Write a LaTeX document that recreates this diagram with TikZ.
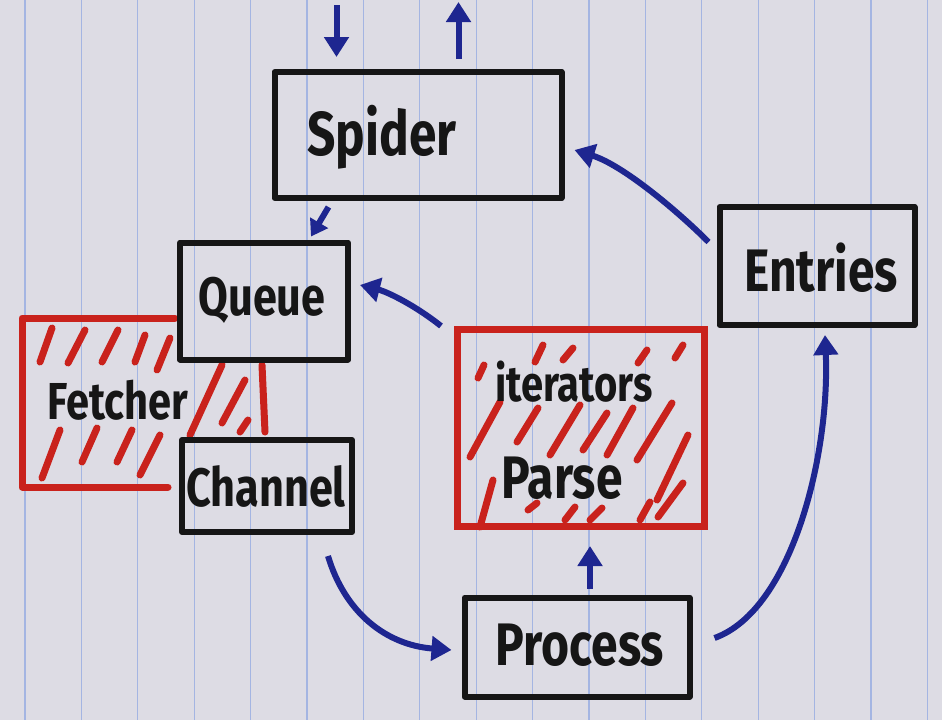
\documentclass[tikz,border=0pt]{standalone}
\usepackage{fontspec}
\setmainfont{Fira Sans}
\usetikzlibrary{arrows.meta,calc}
\definecolor{paper}{HTML}{DDDCE4}
\definecolor{rulecol}{HTML}{A4B5E2}
\definecolor{ink}{HTML}{161616}
\definecolor{redink}{HTML}{C9221C}
\definecolor{blueink}{HTML}{1E2690}
\newcommand\hw[1]{\scalebox{0.8}[1]{#1}}
\begin{document}
\begin{tikzpicture}[x=1pt,y=-1pt,
  blackbox/.style={draw=ink, line width=6pt, line join=round, inner sep=0pt},
  redline/.style={draw=redink, line width=7pt, line join=round, line cap=round},
  hatch/.style={draw=redink, line width=7pt, line cap=round},
  lbl/.style={text=ink, inner sep=0pt, font=\fontsize{#1}{#1}\selectfont\bfseries},
  arr/.style={draw=blueink, line width=6pt, -{Triangle[length=20pt,width=24pt]}},
  paperline/.style={draw=rulecol, line width=1.2pt}]
\useasboundingbox (0,0) rectangle (942,720);
\fill[paper] (0,0) rectangle (942,720);
\foreach \k in {0,...,16} {\draw[paperline] ({25+56.4*\k},0) -- ({25+56.4*\k},720);}

% red hatched areas
\node[inner sep=0pt, minimum width=155pt, minimum height=169pt] (fetcherbox) at (98,402) {};
\draw[redline] (175,318) -- (22,318) -- (22,487) -- (168,487);
\draw[hatch] (40,362) -- (52,328) (68,363) -- (85,330) (102,362) -- (118,330)
  (135,362) -- (145,335) (157,370) -- (170,338)
  (42,478) -- (60,430) (82,462) -- (97,428) (117,462) -- (132,430) (140,475) -- (160,435);
\draw[hatch] (190,435) -- (222,365) (222,423) -- (245,380) (240,432) -- (248,420) (262,365) -- (265,432);

\node[draw=redink, line width=7pt, inner sep=0pt, minimum width=247pt, minimum height=197pt] (pbox) at (581,428) {};
\draw[hatch] (478,378) -- (484,365) (535,362) -- (543,345) (563,360) -- (573,348)
  (638,363) -- (647,350) (675,358) -- (683,345)
  (470,457) -- (500,402) (517,442) -- (538,408) (550,455) -- (580,405) (583,450) -- (607,413)
  (607,455) -- (633,408) (637,460) -- (672,403) (657,500) -- (688,435)
  (480,527) -- (493,480) (528,510) -- (537,503) (565,520) -- (575,507) (590,520) -- (602,508)
  (640,520) -- (650,502) (658,517) -- (683,483);

% black boxes
\node[blackbox, minimum width=287pt, minimum height=126pt] (spider) at (418,135) {};
\node[blackbox, minimum width=195pt, minimum height=118pt] (entries) at (817,266) {};
\node[blackbox, minimum width=168pt, minimum height=117pt] (queue) at (264,301) {};
\node[blackbox, minimum width=170pt, minimum height=92pt] (channel) at (267,486) {};
\node[blackbox, minimum width=225pt, minimum height=99pt] (process) at (577,647) {};

% labels
\node[lbl=62] (spiderlbl) at (382,137) {\hw{Spider}};
\node[lbl=60] (entrieslbl) at (821,268) {\hw{Entries}};
\node[lbl=54] (queuelbl) at (262,300) {\hw{Queue}};
\node[lbl=52] (fetcherlbl) at (118,400) {\hw{Fetcher}};
\node[lbl=54] (channellbl) at (266,486) {\hw{Channel}};
\node[lbl=50] (iterlbl) at (574,382) {\hw{iterators}};
\node[lbl=60] (parselbl) at (562,478) {\hw{Parse}};
\node[lbl=60] (processlbl) at (580,645) {\hw{Process}};

% arrows
\draw[arr] ($(spider.north west)+(65,-64)$) -- ($(spider.north west)+(65,-12)$);
\draw[arr] ($(spider.north west)+(187,-10)$) -- ($(spider.north west)+(187,-67)$);
\draw[arr, -{Triangle[length=16pt,width=20pt]}] ($(spider.south west)+(57,6)$) -- ($(queue.north west)+(134,-3)$);
\draw[arr] ($(entries.west)+(-8,-24)$) .. controls +(-32,-32) and +(48,15) .. ($(spider.east)+(10,15)$);
\draw[arr] ($(pbox.north west)+(-13,0)$) .. controls +(-25,-20) and +(28,7) .. ($(queue.east)+(9,-16)$);
\draw[arr] ($(channel.south)+(61,21)$) .. controls +(17,57) and +(-65,-5) .. ($(process.west)+(-10,3)$);
\draw[arr] ($(process.east)+(22,-9)$) .. controls +(78,-28) and +(5,118) .. ($(entries.south)+(8,7)$);
\draw[arr] ($(process.north)+(13,-6)$) -- ($(pbox.south)+(9,16)$);
\end{tikzpicture}
\end{document}
